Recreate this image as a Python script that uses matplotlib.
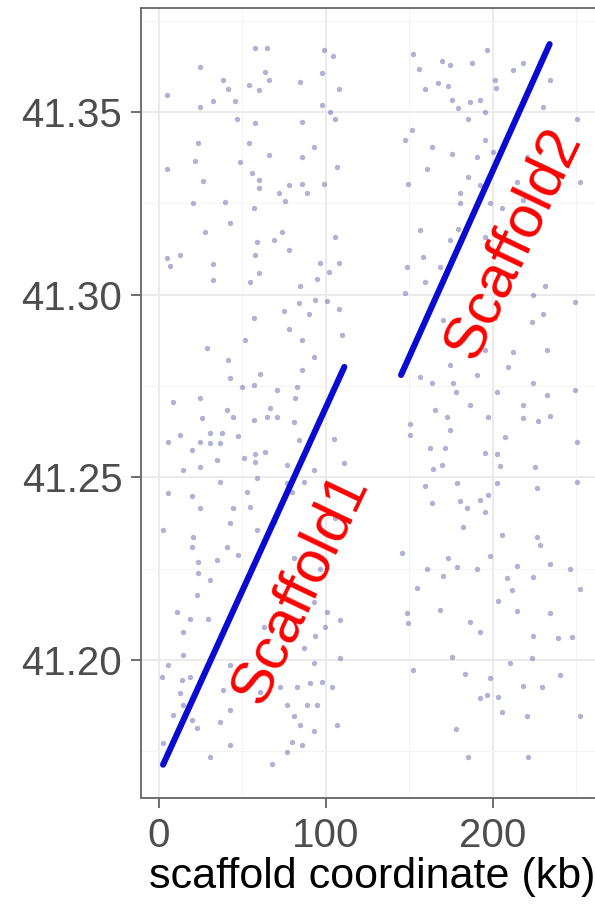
import matplotlib
matplotlib.use("Agg")
import matplotlib.pyplot as plt
from matplotlib.ticker import MultipleLocator

plt.rcParams['font.family'] = ['Liberation Sans', 'DejaVu Sans']

# contact points (scaffold coordinate kb, genome position Mb)
pts_x = [
    24.6, 41.6, 57.6, 64.6, 98.6, 104.2, 97.6, 63.6, 65.6, 38.6, 53.6, 59.6, 4.6, 32.6, 45.6, 24.6,
    97.6, 107.6, 84.6, 102.6, 105.6, 46.6, 57.6, 85.6, 23.6, 53.6, 92.6, 65.6, 48.6, 85.6, 21.6, 4.6,
    106.6, 55.6, 26.6, 59.6, 77.6, 85.6, 88.6, 98.6, 59.6, 71.6, 75.6, 20.6, 39.6, 56.6, 42.6, 27.6,
    105.6, 73.6, 68.6, 58.6, 77.6, 12.6, 4.6, 57.6, 32.6, 6.6, 107.6, 96.6,
    152.3, 155.9, 169.3, 174.3, 196.3, 187.3, 159.3, 167.3, 173.3, 201.3, 201.9, 175.3, 186.3, 192.3,
    179.3, 195.3, 230.3, 185.3, 250.3, 151.3, 147.3, 163.3, 175.3, 195.3, 190.3, 200.3, 160.3, 185.3,
    149.3, 180.3, 192.3, 214.3, 218.3, 180.3, 205.3, 198.3, 156.3, 179.3, 195.3, 174.3, 158.3, 148.3,
    168.3, 252.3, 220.3, 234.3, 218.3, 212.3,
    32.6, 54.6, 59.6, 84.6, 94.6, 101.6, 83.6, 74.6, 89.6, 93.6, 100.6, 107.6, 56.6, 77.6, 85.6, 109.6,
    51.6, 28.6, 92.6, 41.6, 85.6, 42.6, 60.6, 49.6, 56.6, 70.6, 82.6, 81.6, 8.6, 24.6, 66.6, 40.6,
    44.6, 56.6, 64.6, 70.6, 80.6, 25.6, 12.6, 30.6, 37.6, 47.6, 5.6, 24.6, 30.6, 36.6, 83.6, 104.6,
    19.6, 57.6, 63.6, 50.6, 34.6, 24.6, 14.6, 57.6, 76.6, 92.6, 110.6, 58.6, 36.6, 76.6, 86.6, 5.6,
    19.6, 52.6, 79.6, 24.6, 44.6, 54.6, 72.6, 42.6, 2.6, 20.6, 105.6, 58.6, 68.6,
    159.3, 147.3, 231.3, 224.3, 249.3, 230.3, 223.3, 201.3, 170.3, 172.3, 195.3, 212.3, 232.3, 174.3,
    209.3, 190.3, 156.3, 163.3, 176.3, 177.9, 224.3, 249.3, 232.3, 202.3, 165.3, 186.3, 218.3, 197.3,
    218.3, 227.3, 234.3, 172.3, 150.3, 150.3, 174.3, 207.3, 250.3, 162.3, 195.3, 202.3, 171.3, 164.3,
    169.3, 204.3, 225.3, 159.3, 202.3, 250.3, 226.3, 180.3, 163.3, 192.3, 197.3, 184.3, 195.3, 182.3,
    205.3, 226.3, 178.3,
    19.6, 40.6, 47.6, 34.6, 23.6, 80.6, 96.6, 30.6, 23.6, 22.6, 92.6, 10.6, 18.6, 29.6, 100.6, 108.6,
    14.6, 62.6, 93.6, 99.6, 86.6, 14.6, 108.6, 5.6, 1.6, 13.6, 18.6, 42.6, 92.6, 12.6, 38.6, 60.6,
    72.6, 82.6, 90.6, 97.6, 103.6, 14.6, 76.6, 88.6, 94.6, 42.6, 19.6, 36.6, 22.6, 80.6, 84.6, 92.6,
    106.6, 8.6, 42.6, 79.6, 76.6, 30.6, 67.6, 2.6, 85.6,
    145.3, 173.3, 178.3, 190.3, 198.3, 214.3, 228.3, 234.3, 246.3, 160.3, 170.3, 208.3, 224.3, 211.3,
    252.3, 154.3, 203.3, 168.3, 148.3, 214.3, 234.3, 149.3, 186.3, 192.3, 224.3, 239.3, 247.3, 175.3,
    152.3, 183.3, 198.3, 223.3, 240.3, 210.3, 218.3, 229.3, 196.3, 192.3, 205.3, 220.3, 252.3, 177.9,
    185.3, 221.3, 203.3,
]
pts_y = [
    41.3624, 41.3564, 41.3674, 41.3674, 41.3671, 41.3653, 41.3607, 41.3610, 41.3589, 41.3587, 41.3573,
    41.3560, 41.3546, 41.3530, 41.3530, 41.3514, 41.3519, 41.3562, 41.3581, 41.3500, 41.3480, 41.3480,
    41.3470, 41.3473, 41.3414, 41.3414, 41.3405, 41.3382, 41.3364, 41.3377, 41.3366, 41.3343, 41.3350,
    41.3334, 41.3312, 41.3314, 41.3300, 41.3304, 41.3279, 41.3302, 41.3291, 41.3277, 41.3256, 41.3251,
    41.3254, 41.3236, 41.3197, 41.3172, 41.3157, 41.3172, 41.3149, 41.3145, 41.3122, 41.3108, 41.3099,
    41.3108, 41.3084, 41.3079, 41.3086, 41.3087,
    41.3658, 41.3619, 41.3639, 41.3628, 41.3669, 41.3633, 41.3564, 41.3580, 41.3571, 41.3587, 41.3567,
    41.3534, 41.3528, 41.3532, 41.3510, 41.3501, 41.3514, 41.3482, 41.3480, 41.3450, 41.3423, 41.3405,
    41.3385, 41.3423, 41.3377, 41.3391, 41.3345, 41.3323, 41.3304, 41.3277, 41.3300, 41.3309, 41.3259,
    41.3250, 41.3236, 41.3250, 41.3177, 41.3181, 41.3157, 41.3149, 41.3104, 41.3076, 41.3076, 41.3309,
    41.3377, 41.3587, 41.3633, 41.3615,
    41.3040, 41.3035, 41.3060, 41.3023, 41.3044, 41.3062, 41.2976, 41.2956, 41.2948, 41.2985, 41.2983,
    41.2962, 41.2935, 41.2907, 41.2875, 41.2889, 41.2875, 41.2853, 41.2830, 41.2821, 41.2793, 41.2771,
    41.2784, 41.2748, 41.2752, 41.2739, 41.2746, 41.2716, 41.2707, 41.2716, 41.2689, 41.2684, 41.2666,
    41.2657, 41.2666, 41.2666, 41.2652, 41.2661, 41.2616, 41.2620, 41.2622, 41.2613, 41.2597, 41.2597,
    41.2593, 41.2593, 41.2602, 41.2606, 41.2575, 41.2565, 41.2570, 41.2552, 41.2547, 41.2529, 41.2520,
    41.2543, 41.2534, 41.2520, 41.2538, 41.2497, 41.2488, 41.2483, 41.2488, 41.2456, 41.2449, 41.2461,
    41.2461, 41.2415, 41.2415, 41.2419, 41.2424, 41.2374, 41.2356, 41.2337, 41.2388, 41.2356, 41.2378,
    41.3035, 41.3005, 41.3023, 41.2999, 41.2980, 41.2948, 41.2926, 41.2935, 41.2930, 41.2898, 41.2848,
    41.2844, 41.2848, 41.2807, 41.2803, 41.2780, 41.2775, 41.2757, 41.2759, 41.2734, 41.2757, 41.2740,
    41.2725, 41.2734, 41.2684, 41.2698, 41.2698, 41.2666, 41.2661, 41.2655, 41.2668, 41.2666, 41.2647,
    41.2616, 41.2629, 41.2611, 41.2597, 41.2579, 41.2567, 41.2565, 41.2579, 41.2522, 41.2534, 41.2531,
    41.2529, 41.2476, 41.2485, 41.2488, 41.2470, 41.2436, 41.2429, 41.2438, 41.2451, 41.2415, 41.2406,
    41.2365, 41.2342, 41.2337, 41.2483,
    41.2310, 41.2308, 41.2287, 41.2273, 41.2269, 41.2278, 41.2250, 41.2219, 41.2237, 41.2178, 41.2159,
    41.2132, 41.2111, 41.2111, 41.2132, 41.2109, 41.2077, 41.2089, 41.2064, 41.2089, 41.2032, 41.2013,
    41.2004, 41.1986, 41.1954, 41.1945, 41.1954, 41.1986, 41.1991, 41.1908, 41.1918, 41.1913, 41.1927,
    41.1927, 41.1936, 41.1940, 41.1927, 41.1877, 41.1877, 41.1877, 41.1877, 41.1863, 41.1836, 41.1831,
    41.1813, 41.1845, 41.1822, 41.1804, 41.1822, 41.1849, 41.1767, 41.1776, 41.1749, 41.1735, 41.1715,
    41.1772, 41.1767,
    41.2293, 41.2278, 41.2253, 41.2250, 41.2284, 41.2257, 41.2314, 41.2262, 41.2250, 41.2248, 41.2229,
    41.2223, 41.2226, 41.2191, 41.2193, 41.2198, 41.2162, 41.2136, 41.2129, 41.2134, 41.2129, 41.2102,
    41.2105, 41.2077, 41.2064, 41.2059, 41.2062, 41.2009, 41.1971, 41.1961, 41.1950, 41.2004, 41.1959,
    41.1991, 41.1929, 41.1927, 41.1904, 41.1895, 41.1858, 41.1846, 41.1845, 41.1810, 41.1733, 41.1735,
    41.1899,
]

# scaffold placements: start/end (kb) and genome position (Mb)
scaffolds = ["Scaffold1", "Scaffold2"]
scaf_x = [[2.4, 111.0], [145.0, 234.0]]
scaf_y = [[41.1713, 41.2802], [41.2780, 41.3686]]
label_x = [84.4, 212.5]
label_y = [41.2197, 41.3141]

fig = plt.figure(figsize=(5.95, 9.14), dpi=100)
ax = fig.add_axes([0.237, 0.127, 0.7765, 0.8643])

ax.scatter(pts_x, pts_y, s=15, color="#40409c", alpha=0.4, linewidths=0, zorder=2)

for name, xs, ys, tx, ty in zip(scaffolds, scaf_x, scaf_y, label_x, label_y):
    ax.plot(xs, ys, color="#0a0ad2", linewidth=4.4, solid_capstyle="round", zorder=3)
    ax.text(tx, ty, name, color="red", fontsize=43, rotation=64.5,
            ha="center", va="center", zorder=4)

ax.set_xlim(-10.8, 266)
ax.set_ylim(41.1622, 41.3785)
ax.set_xticks([0, 100, 200])
ax.set_yticks([41.20, 41.25, 41.30, 41.35])
ax.set_yticklabels(["41.20", "41.25", "41.30", "41.35"])
ax.xaxis.set_minor_locator(MultipleLocator(50))
ax.yaxis.set_minor_locator(MultipleLocator(0.025))

ax.grid(True, which="major", color="#ebebeb", linewidth=1.4, zorder=0)
ax.grid(True, which="minor", color="#f4f4f4", linewidth=0.8, zorder=0)
ax.set_axisbelow(True)

ax.tick_params(which="major", length=7.5, width=1.2, color="#555555",
               labelsize=29, labelcolor="#4d4d4d", pad=6)
ax.tick_params(which="minor", length=0)
for sp in ax.spines.values():
    sp.set_color("#666666")
    sp.set_linewidth(1.3)

ax.set_xlabel("scaffold coordinate (kb)", fontsize=31, color="black", labelpad=2)

fig.savefig("out.png", dpi=100)
